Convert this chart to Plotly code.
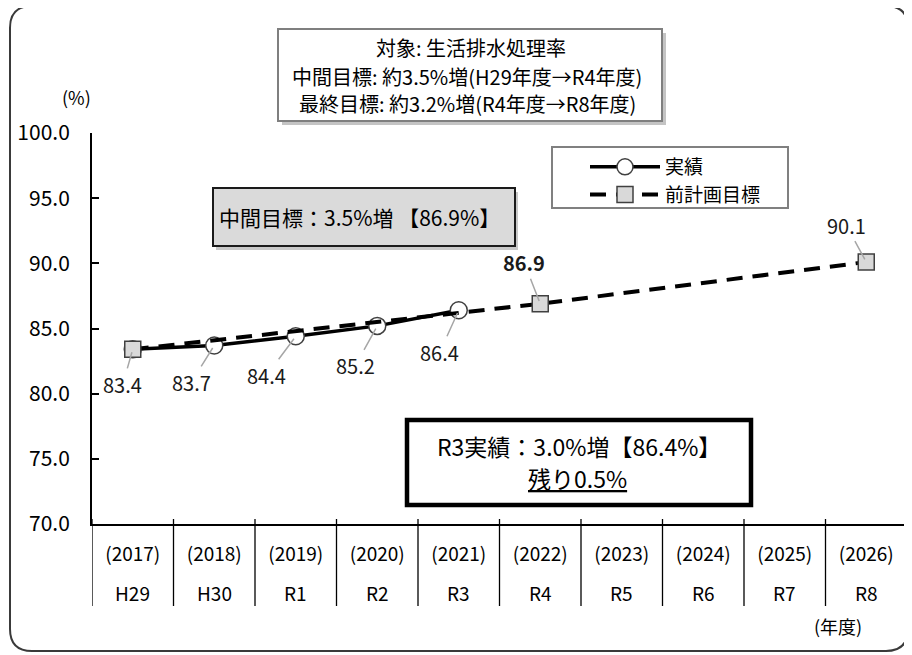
import plotly.graph_objects as go

# ---------------- data ----------------
years = ["(2017)", "(2018)", "(2019)", "(2020)", "(2021)", "(2022)", "(2023)", "(2024)", "(2025)", "(2026)"]
eras = ["H29", "H30", "R1", "R2", "R3", "R4", "R5", "R6", "R7", "R8"]

actual_x = ["H29", "H30", "R1", "R2", "R3"]
actual_y = [83.4, 83.7, 84.4, 85.2, 86.4]

target_x = ["H29", "R4", "R8"]
target_y = [83.4, 86.9, 90.1]

y_ticks = [70, 75, 80, 85, 90, 95, 100]

title_lines = ["対象: 生活排水処理率",
               "中間目標: 約3.5%増(H29年度→R4年度)",
               "最終目標: 約3.2%増(R4年度→R8年度)"]
mid_text = "中間目標：3.5%増 【86.9%】"
r3_text = "R3実績：3.0%増【86.4%】"
remain_text = "残り0.5%"

# ---------------- layout helpers (screen pixel -> paper) ----------------
O = 8                      # page body margin
W, H = 912 - O, 655 - O
L, R, T, B = 92, 907, 133, 524
FONT = "Noto Sans CJK JP"


def px(x):
    return (x - L) / (R - L)


def py(y):
    return (B - y) / (B - T)


fig = go.Figure()

fig.add_trace(go.Scatter(
    x=actual_x, y=actual_y, name="実績", mode="lines+markers",
    line=dict(color="black", width=3.5),
    marker=dict(symbol="circle", size=17, color="white", line=dict(color="#404040", width=1.5)),
))
fig.add_trace(go.Scatter(
    x=target_x, y=target_y, name="前計画目標", mode="lines+markers",
    line=dict(color="black", width=4, dash="16px,10px"),
    marker=dict(symbol="square", size=16, color="#d9d9d9", line=dict(color="#404040", width=1.5)),
))

shapes = []
annotations = []


def rrect(x0, y0, x1, y1, r):
    return (f"M {px(x0 + r)} {py(y0)} L {px(x1 - r)} {py(y0)} "
            f"Q {px(x1)} {py(y0)} {px(x1)} {py(y0 + r)} "
            f"L {px(x1)} {py(y1 - r)} Q {px(x1)} {py(y1)} {px(x1 - r)} {py(y1)} "
            f"L {px(x0 + r)} {py(y1)} Q {px(x0)} {py(y1)} {px(x0)} {py(y1 - r)} "
            f"L {px(x0)} {py(y0 + r)} Q {px(x0)} {py(y0)} {px(x0 + r)} {py(y0)} Z")


# outer rounded border
shapes.append(dict(type="path", xref="paper", yref="paper", path=rrect(10, 6, 908, 651, 22),
                   line=dict(color="#3a3a3a", width=2), layer="below"))

# category separators under x axis
for i in range(len(eras) + 1):
    shapes.append(dict(type="line", xref="x", yref="paper", x0=i - 0.5, x1=i - 0.5,
                       y0=py(519), y1=py(606), line=dict(color="black", width=1.3)))

# title box (shadow + box)
shapes.append(dict(type="rect", xref="paper", yref="paper", x0=px(282), x1=px(666), y0=py(33), y1=py(125),
                   fillcolor="#c4c4c4", line=dict(width=0), layer="above"))
shapes.append(dict(type="rect", xref="paper", yref="paper", x0=px(278), x1=px(662), y0=py(29), y1=py(121),
                   fillcolor="white", line=dict(color="#7f7f7f", width=2), layer="above"))

# legend box
shapes.append(dict(type="rect", xref="paper", yref="paper", x0=px(552), x1=px(788), y0=py(147), y1=py(208),
                   fillcolor="white", line=dict(color="#808080", width=2), layer="below"))

# mid target box
shapes.append(dict(type="rect", xref="paper", yref="paper", x0=px(216), x1=px(518), y0=py(192), y1=py(250),
                   fillcolor="#c8c8c8", line=dict(width=0), layer="above"))
shapes.append(dict(type="rect", xref="paper", yref="paper", x0=px(213), x1=px(515), y0=py(188), y1=py(246),
                   fillcolor="#dadada", line=dict(color="#1a1a1a", width=2), layer="above"))

# R3 box
shapes.append(dict(type="rect", xref="paper", yref="paper", x0=px(407), x1=px(751), y0=py(420), y1=py(505),
                   fillcolor="white", line=dict(color="black", width=4.5), layer="above"))


def label(text, x, y, size, **kw):
    annotations.append(dict(text=text, xref="paper", yref="paper", x=px(x), y=py(y),
                            xanchor="center", yanchor="middle", showarrow=False,
                            font=dict(size=size, color="black", family=FONT), **kw))


# title text
for txt, xx, yy in zip(title_lines, [471, 467, 467], [48, 76, 104]):
    label(txt, xx, yy, 20)

label(mid_text, 359, 217, 21)
label(r3_text, 579, 446, 23)
label("<u>" + remain_text + "</u>", 577, 478, 23)
label("(%)", 76, 97, 18)
label("(年度)", 838, 626, 18)

# second row of the category axis (era names)
for e in eras:
    annotations.append(dict(text=e, x=e, xref="x", yref="paper", y=py(592), showarrow=False,
                            xanchor="center", yanchor="middle",
                            font=dict(size=19, color="black", family=FONT)))

# data labels
act_off = [(-10, 35), (-23, 37), (-29, 39), (-22, 40), (-19, 42)]
for xv, yv, (ax, ay) in zip(actual_x, actual_y, act_off):
    annotations.append(dict(text=f"{yv:.1f}", x=xv, y=yv, xref="x", yref="y", ax=ax, ay=ay,
                            showarrow=True, arrowhead=0, arrowwidth=1.5, arrowcolor="#a6a6a6", standoff=3,
                            font=dict(size=20, color="#1a1a1a", family=FONT)))
tgt_lab = [("R4", 86.9, -16, -41, True), ("R8", 90.1, -20, -37, False)]
for xv, yv, ax, ay, bold in tgt_lab:
    t = f"{yv:.1f}"
    annotations.append(dict(text=f"<b>{t}</b>" if bold else t, x=xv, y=yv, xref="x", yref="y", ax=ax, ay=ay,
                            showarrow=True, arrowhead=0, arrowwidth=1.5, arrowcolor="#a6a6a6", standoff=3,
                            font=dict(size=20, color="#1a1a1a", family=FONT)))

fig.update_layout(
    width=W, height=H,
    margin=dict(l=L - O, r=O + W - R, t=T - O, b=O + H - B),
    paper_bgcolor="white", plot_bgcolor="white",
    font=dict(family=FONT, color="black"),
    showlegend=True,
    legend=dict(x=px(585), y=py(148), xanchor="left", yanchor="top",
                bgcolor="rgba(0,0,0,0)", borderwidth=0, itemwidth=70,
                font=dict(size=19, family=FONT, color="black")),
    shapes=shapes, annotations=annotations,
    xaxis=dict(type="category", categoryorder="array", categoryarray=eras,
               tickmode="array", tickvals=eras, ticktext=years,
               showline=True, linecolor="black", linewidth=2, ticks="", showgrid=False,
               range=[-0.5, len(eras) - 0.5], ticklabelstandoff=12,
               tickfont=dict(size=19, family=FONT, color="black")),
    yaxis=dict(range=[70, 100], tickvals=y_ticks, tickformat=".1f",
               showline=True, linecolor="black", linewidth=2, ticks="inside", ticklen=7,
               tickwidth=2, tickcolor="black", showgrid=False, zeroline=False, ticklabelstandoff=16,
               tickfont=dict(size=21, family=FONT, color="black")),
)

fig.write_html("out.html")
